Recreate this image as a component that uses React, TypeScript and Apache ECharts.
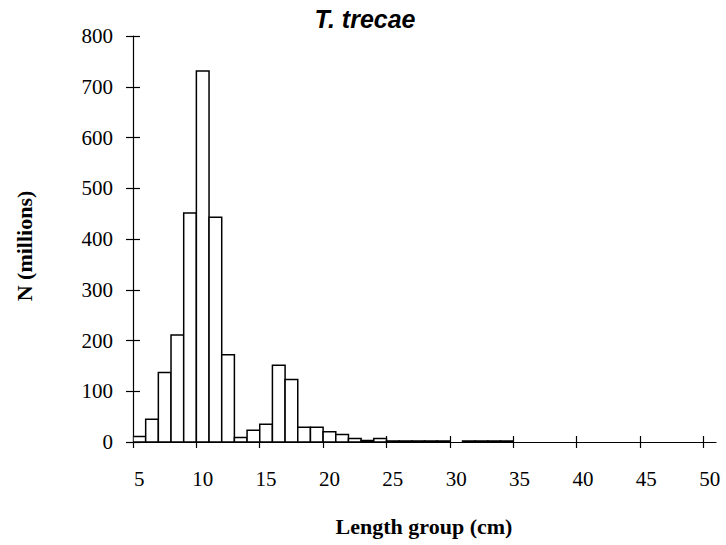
import React, { useEffect, useRef } from "react";
import * as echarts from "echarts";

// Length groups (cm), left edge of each 1-cm class
const lengthGroups: number[] = [
  5, 6, 7, 8, 9, 10, 11, 12, 13, 14, 15, 16, 17, 18, 19, 20, 21, 22, 23, 24, 25, 26, 27,
  28, 29, 30, 31, 32, 33, 34, 35, 36, 37, 38, 39, 40, 41, 42, 43, 44, 45, 46, 47, 48, 49, 50,
];
// Abundance N (millions)
const abundance: number[] = [
  11, 45, 137, 211, 451, 731, 443, 172, 9, 23, 35, 151, 123, 29, 29, 20, 15, 7, 3, 7, 2, 2, 2,
  2, 2, 0, 2, 2, 2, 2, 0, 0, 0, 0, 0, 0, 0, 0, 0, 0, 0, 0, 0, 0, 0, 0,
];
const xTickValues: number[] = [5, 10, 15, 20, 25, 30, 35, 40, 45, 50];
const yTickValues: number[] = [0, 100, 200, 300, 400, 500, 600, 700, 800];
const chartTitle = "T. trecae";
const xAxisTitle = "Length group (cm)";
const yAxisTitle = "N (millions)";

const SERIF = "'Liberation Serif', 'Times New Roman', serif";
const SANS = "'Liberation Sans', Arial, sans-serif";

export default function App() {
  const ref = useRef<HTMLDivElement>(null);

  useEffect(() => {
    if (!ref.current) return;
    const chart = echarts.init(ref.current, null, { renderer: "svg" });
    const data = lengthGroups.map((g, i) => [g, abundance[i]]);
    const labelValues = xTickValues.map((v) => v + 0.5);

    const baseX = {
      type: "value" as const,
      min: 5,
      max: 51,
      splitLine: { show: false },
    };
    const baseY = {
      type: "value" as const,
      min: 0,
      max: 800,
      interval: 100,
      splitLine: { show: false },
    };

    chart.setOption({
      animation: false,
      backgroundColor: "#ffffff",
      grid: { left: 133, top: 36, right: 10, bottom: 103, containLabel: false },
      xAxis: [
        {
          ...baseX,
          axisLine: { show: true, lineStyle: { color: "#000", width: 1.2 } },
          axisTick: {
            show: true,
            length: 6,
            customValues: xTickValues,
            lineStyle: { color: "#000", width: 1.2 },
          },
          axisLabel: {
            show: true,
            customValues: labelValues,
            formatter: (v: number) => String(Math.floor(v)),
            color: "#000",
            fontFamily: SERIF,
            fontSize: 21,
            margin: 26,
          },
        },
        {
          ...baseX,
          position: "bottom",
          axisLine: { show: false },
          axisTick: {
            show: true,
            inside: true,
            length: 6,
            customValues: xTickValues,
            lineStyle: { color: "#000", width: 1.2 },
          },
          axisLabel: { show: false },
        },
      ],
      yAxis: [
        {
          ...baseY,
          axisLine: { show: true, lineStyle: { color: "#000", width: 1.2 } },
          axisTick: {
            show: true,
            length: 7,
            customValues: yTickValues,
            lineStyle: { color: "#000", width: 1.2 },
          },
          axisLabel: {
            show: true,
            color: "#000",
            fontFamily: SERIF,
            fontSize: 21,
            margin: 20,
          },
        },
        {
          ...baseY,
          position: "left",
          axisLine: { show: false },
          axisTick: {
            show: true,
            inside: true,
            length: 7,
            customValues: yTickValues,
            lineStyle: { color: "#000", width: 1.2 },
          },
          axisLabel: { show: false },
        },
      ],
      series: [
        {
          type: "custom",
          xAxisIndex: 0,
          yAxisIndex: 0,
          data,
          clip: true,
          renderItem: (params: any, api: any) => {
            const x0 = api.value(0);
            const v = api.value(1);
            if (!v) return null;
            const p0 = api.coord([x0, 0]);
            const p1 = api.coord([x0 + 1, v]);
            return {
              type: "rect",
              shape: {
                x: p0[0],
                y: p1[1],
                width: p1[0] - p0[0],
                height: p0[1] - p1[1],
              },
              style: { fill: "#ffffff", stroke: "#000000", lineWidth: 1.5 },
            };
          },
        },
      ],
      graphic: [
        {
          type: "text",
          x: 365,
          y: 19,
          style: {
            text: chartTitle,
            font: `italic bold 25px ${SANS}`,
            fill: "#000",
            align: "center",
            verticalAlign: "middle",
          },
        },
        {
          type: "text",
          x: 424,
          y: 526,
          style: {
            text: xAxisTitle,
            font: `bold 22px ${SERIF}`,
            fill: "#000",
            align: "center",
            verticalAlign: "middle",
          },
        },
        {
          type: "text",
          x: 24,
          y: 246,
          rotation: Math.PI / 2,
          style: {
            text: yAxisTitle,
            font: `bold 22px ${SERIF}`,
            fill: "#000",
            align: "center",
            verticalAlign: "middle",
          },
        },
      ],
    });

    return () => chart.dispose();
  }, []);

  return <div ref={ref} style={{ width: 726, height: 545, position: "absolute", left: 0, top: 0 }} />;
}
